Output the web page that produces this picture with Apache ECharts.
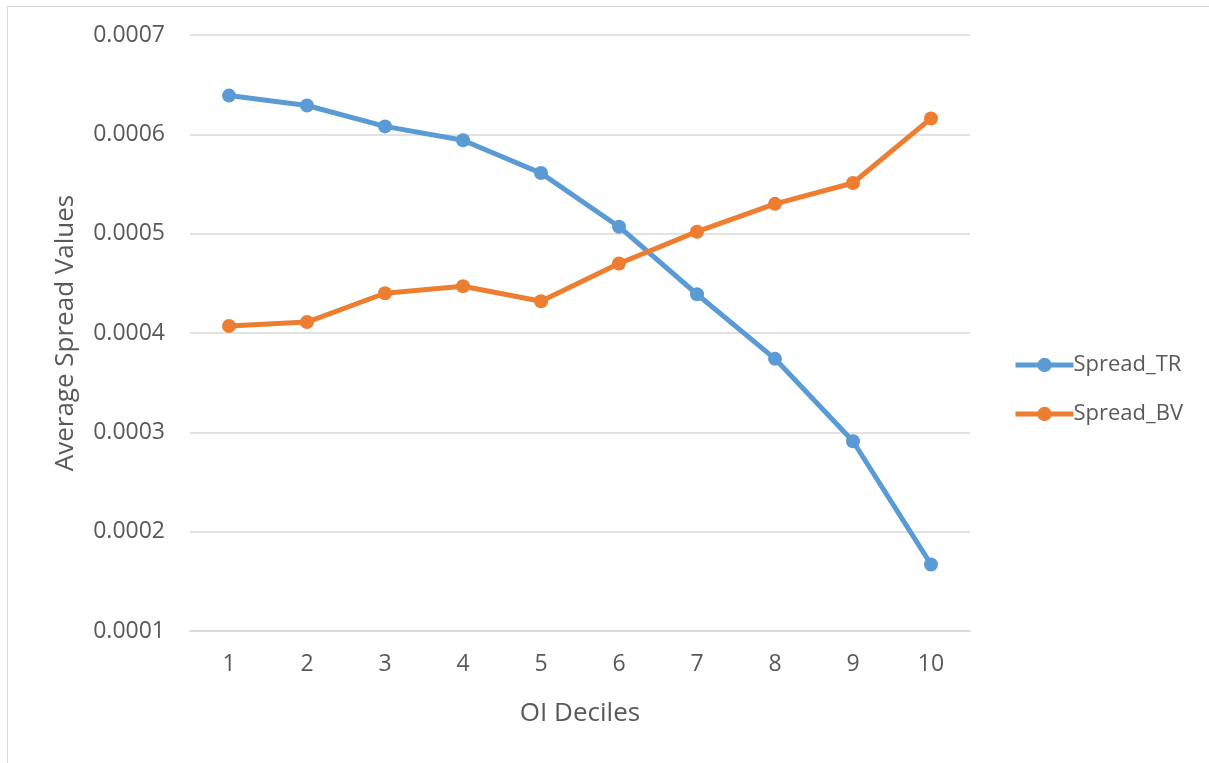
<!DOCTYPE html>
<html>
<head>
<meta charset="utf-8">
<script src="https://cdn.jsdelivr.net/npm/echarts@6/dist/echarts.min.js"></script>
<style>
html,body{margin:0;padding:0;background:#fff;}
#chart{width:1209px;height:763px;}
</style>
</head>
<body>
<div id="chart"></div>
<script>
var categories = ['1','2','3','4','5','6','7','8','9','10'];
var spreadTR = [0.000639, 0.000629, 0.000608, 0.000594, 0.000561, 0.000507, 0.000439, 0.000374, 0.000291, 0.000167];
var spreadBV = [0.000407, 0.000411, 0.000440, 0.000447, 0.000432, 0.000470, 0.000502, 0.000530, 0.000551, 0.000616];

var FONT = '"Open Sans", "Noto Sans", sans-serif';
var chart = echarts.init(document.getElementById('chart'));
chart.setOption({
  backgroundColor: '#fff',
  animation: false,
  graphic: [{
    type: 'rect',
    shape: {x: 7.5, y: 6.5, width: 1300, height: 900},
    style: {fill: 'none', stroke: '#d9d9d9', lineWidth: 1},
    silent: true
  }],
  grid: {left: 190, right: 239, top: 35, bottom: 132},
  legend: {
    orient: 'vertical',
    left: 1008,
    top: 349,
    itemGap: 27,
    itemWidth: 58,
    itemHeight: 18,
    lineStyle: {width: 5},
    textStyle: {fontFamily: FONT, fontSize: 22, color: '#595959', padding: [0,0,0,-5]},
    data: ['Spread_TR', 'Spread_BV']
  },
  xAxis: {
    type: 'category',
    data: categories,
    boundaryGap: true,
    name: 'OI Deciles',
    nameLocation: 'middle',
    nameGap: 70,
    nameTextStyle: {fontFamily: FONT, fontSize: 26, color: '#595959'},
    axisLine: {show: true, lineStyle: {color: '#d9d9d9', width: 1.5}},
    axisTick: {show: false},
    axisLabel: {fontFamily: FONT, fontSize: 23, color: '#595959', margin: 22}
  },
  yAxis: {
    type: 'value',
    min: 0.0001,
    max: 0.0007,
    interval: 0.0001,
    name: 'Average Spread Values',
    nameLocation: 'middle',
    nameGap: 111,
    nameTextStyle: {fontFamily: FONT, fontSize: 26, color: '#595959'},
    axisLine: {show: false},
    axisTick: {show: false},
    splitLine: {lineStyle: {color: '#d9d9d9', width: 1.5}},
    axisLabel: {
      fontFamily: FONT, fontSize: 23, color: '#595959', margin: 25,
      formatter: function (v) { return v.toFixed(4); }
    }
  },
  series: [
    {
      name: 'Spread_TR', type: 'line', data: spreadTR,
      symbol: 'circle', symbolSize: 14,
      lineStyle: {color: '#5B9BD5', width: 5},
      itemStyle: {color: '#5B9BD5'}
    },
    {
      name: 'Spread_BV', type: 'line', data: spreadBV,
      symbol: 'circle', symbolSize: 14,
      lineStyle: {color: '#ED7D31', width: 5},
      itemStyle: {color: '#ED7D31'}
    }
  ]
});
</script>
</body>
</html>
